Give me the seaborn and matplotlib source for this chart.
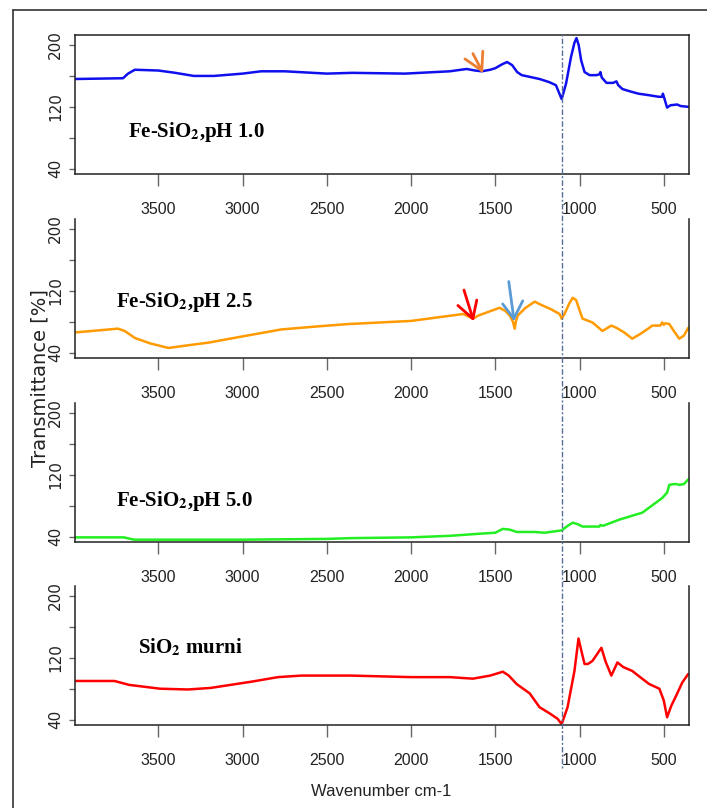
import numpy as np
import pandas as pd
import matplotlib
matplotlib.use("Agg")
import matplotlib.pyplot as plt
import matplotlib.transforms as mtransforms
from matplotlib.lines import Line2D
from matplotlib.ticker import FixedLocator, FixedFormatter
import seaborn as sns

sns.set_style("white")
plt.rcParams['font.family'] = ['DejaVu Sans']
plt.rcParams['mathtext.fontset'] = 'stix'

# ---------------- data ----------------
wn_ph10 = [4000, 3710, 3680, 3640, 3500, 3400, 3290, 3170, 3000, 2890, 2750, 2500, 2350, 2035,
           1770, 1670, 1620, 1580, 1530, 1500, 1460, 1430, 1400, 1370, 1343, 1300, 1237, 1180,
           1140, 1106, 1080, 1050, 1030, 1018, 1005, 990, 970, 940, 900, 882, 876, 868, 840,
           800, 781, 770, 745, 700, 650, 586, 530, 509, 505, 495, 480, 460, 420, 400, 355]
tr_ph10 = [156, 157, 163, 168, 167, 164, 160, 160, 163, 166, 166, 163, 164, 163,
           166, 169, 167, 166, 168, 170, 175, 178, 174, 165, 161, 159, 156, 152,
           148, 130, 150, 185, 203, 209, 200, 180, 165, 161, 161, 162, 165, 158, 151,
           151, 153, 148, 143, 140, 137, 135, 133, 133, 137, 130, 119, 122, 123, 121, 120]

wn_ph25 = [4000, 3740, 3700, 3640, 3550, 3440, 3340, 3200, 3000, 2770, 2550, 2370, 2000, 1690,
           1633, 1600, 1575, 1475, 1440, 1414, 1395, 1385, 1378, 1367, 1320, 1266, 1230, 1177,
           1118, 1106, 1089, 1060, 1040, 1020, 1000, 982, 923, 864, 811, 780, 734, 687, 640,
           586, 568, 520, 509, 500, 490, 467, 440, 408, 380, 355]
tr_ph25 = [66, 71, 68, 59, 52, 46, 49, 53, 61, 70, 74, 77, 81, 90,
           84, 88, 90, 98, 94, 88, 80, 71, 80, 88, 98, 106, 102, 97,
           90, 84, 90, 104, 111, 108, 95, 84, 79, 68, 75, 72, 66, 58, 64,
           72, 75, 75, 79, 76, 78, 77, 68, 58, 62, 72]

wn_ph50 = [4000, 3705, 3645, 3000, 2500, 2360, 2000, 1770, 1575, 1500, 1455, 1414, 1373, 1266,
           1207, 1106, 1070, 1040, 1010, 982, 882, 876, 860, 763, 627, 509, 480, 467, 440,
           426, 408, 380, 355]
tr_ph50 = [39, 39, 36, 36, 37, 38, 39, 41, 44, 45, 50, 49, 46, 46,
           45, 48, 54, 58, 56, 53, 53, 55, 54, 62, 71, 90, 97, 107, 108,
           108, 107, 108, 114]

wn_sio2 = [4000, 3760, 3675, 3490, 3325, 3190, 2950, 2790, 2650, 2490, 2360, 2000, 1770, 1633,
           1530, 1455, 1420, 1373, 1296, 1237, 1177, 1130, 1106, 1071, 1030, 1006, 990, 970,
           950, 923, 870, 845, 811, 775, 740, 687, 640, 586, 526, 500, 480, 455, 426, 390, 355]
tr_sio2 = [90, 90, 85, 80, 79, 81, 89, 95, 97, 97, 97, 95, 95, 93,
           97, 102, 97, 86, 74, 56, 48, 41, 34, 56, 103, 145, 130, 112,
           112, 116, 133, 115, 97, 114, 108, 103, 95, 86, 80, 65, 43, 58, 71, 88, 99]

labels = ["Fe-SiO$_\\mathbf{2}$,pH 1.0", "Fe-SiO$_\\mathbf{2}$,pH 2.5",
          "Fe-SiO$_\\mathbf{2}$,pH 5.0", "SiO$_\\mathbf{2}$ murni"]
label_pos = [(3680, 88), (3751, 105), (3751, 86), (3621, 133)]
colors = ["#1010EE", "#FF9A00", "#22EE22", "#FF0000"]

x_ticks = [3500, 3000, 2500, 2000, 1500, 1000, 500]
y_ticks = [40, 80, 120, 160, 200]
y_ticklabels = ["40", "", "120", "", "200"]
marker_wn = 1106

# annotation arrows: (panel, colour, tip, [end points of strokes])
arrows = [
    (0, "#ED7D31", (1580, 167), [(1680, 182), (1633, 189), (1574, 192)]),
    (1, "#FF0000", (1633, 84), [(1686, 121), (1722, 101), (1610, 108)]),
    (1, "#5B9BD5", (1390, 84), [(1420, 132), (1456, 103), (1337, 107)]),
]

series = [(wn_ph10, tr_ph10), (wn_ph25, tr_ph25), (wn_ph50, tr_ph50), (wn_sio2, tr_sio2)]

# ---------------- figure ----------------
W, H = 707, 808
fig = plt.figure(figsize=(W / 100, H / 100), dpi=100)
fig.patch.set_facecolor("white")

left, right = 75 / W, 689 / W
tops = [35, 219, 403, 586]
ph = 139

tickfont = 'Liberation Sans'
axes = []
for i, ((wn, tr), col) in enumerate(zip(series, colors)):
    top = tops[i]
    ax = fig.add_axes([left, 1 - (top + ph) / H, right - left, ph / H])
    df = pd.DataFrame({"wn": wn, "tr": tr})
    sns.lineplot(data=df, x="wn", y="tr", ax=ax, color=col, lw=1.8, sort=False)
    ax.set_xlim(3995, 350)
    ax.set_ylim(33, 213)
    ax.set_xlabel("")
    ax.set_ylabel("")
    ax.xaxis.set_major_locator(FixedLocator(x_ticks))
    ax.set_xticklabels([str(t) for t in x_ticks], fontfamily=tickfont, fontsize=11.5)
    ax.yaxis.set_major_locator(FixedLocator(y_ticks))
    ax.yaxis.set_major_formatter(FixedFormatter(y_ticklabels))
    for lab in ax.get_yticklabels():
        lab.set_rotation(90)
        lab.set_va("center")
        lab.set_fontsize(11)
        lab.set_color("#222222")
    ax.tick_params(axis="x", bottom=True, direction="out", length=8.5, width=1, color="#666666",
                   pad=11.5, labelcolor="#222222")
    ax.tick_params(axis="y", left=True, direction="out", length=4.5, width=1, color="#666666", pad=4)
    for s in ax.spines.values():
        s.set_color("#222222")
        s.set_linewidth(1.1)
    if i > 0:
        ax.spines["top"].set_visible(False)
    ax.text(label_pos[i][0], label_pos[i][1], labels[i], fontfamily="Liberation Serif",
            fontweight="bold", fontsize=15, va="center", ha="left", color="black")
    axes.append(ax)

for pi, col, tip, ends in arrows:
    ax = axes[pi]
    for e in ends:
        ax.plot([e[0], tip[0]], [e[1], tip[1]], color=col, lw=2, solid_capstyle="round", zorder=5)

# vertical dotted reference line across all panels
tr_blend = mtransforms.blended_transform_factory(axes[3].transData, fig.transFigure)
fig.add_artist(Line2D([marker_wn, marker_wn], [1 - 768 / H, 1 - 33 / H], transform=tr_blend,
                      color="#5A6E9A", lw=1.0, linestyle=(0, (1.5, 1.5, 4, 1.5)), zorder=10))

# axis titles
fig.text(40 / W, 1 - 378 / H, "Transmittance [%]", rotation=90, fontsize=14,
         ha="center", va="center", color="#222222")
fig.text(381 / W, 1 - 792 / H, "Wavenumber cm-1", fontfamily=tickfont, fontsize=12,
         ha="center", va="center", color="#222222")

# outer frame
fig.add_artist(Line2D([13 / W, 13 / W], [0, 1 - 10 / H], transform=fig.transFigure,
                      color="#333333", lw=1.2))
fig.add_artist(Line2D([13 / W, 1], [1 - 10 / H, 1 - 10 / H], transform=fig.transFigure,
                      color="#333333", lw=1.2))

fig.savefig("out.png", dpi=100, facecolor="white")
